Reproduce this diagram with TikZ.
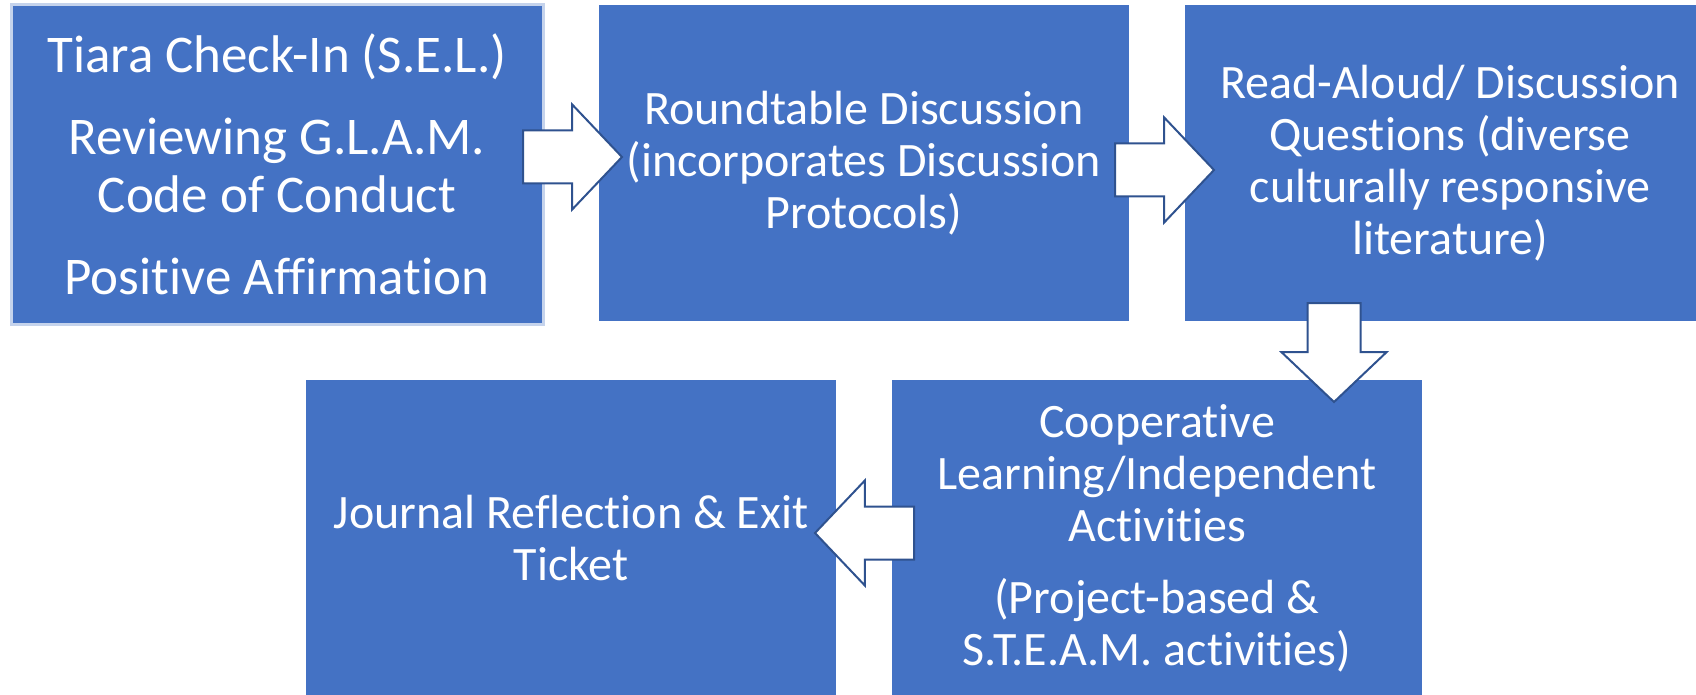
\documentclass[tikz,border=0pt]{standalone}
\usepackage{fontspec}
\setmainfont[Ligatures=NoCommon]{Carlito}
\usetikzlibrary{shapes.arrows}
\definecolor{stepblue}{HTML}{4472C4}
\definecolor{arrowblue}{HTML}{2F528F}
\definecolor{paleedge}{HTML}{C5D3EC}
\tikzset{
  stage/.style={fill=stepblue, text=white, align=center, inner sep=0pt,
    minimum width=530pt, minimum height=316pt,
    font=\fontsize{48}{52}\selectfont},
  flow/.style={single arrow, draw=arrowblue, fill=white, line width=2pt,
    inner sep=25.5pt, minimum height=99pt, anchor=tail,
    single arrow head extend=26pt, single arrow tip angle=93},
}
\begin{document}
\begin{tikzpicture}[x=1pt, y=-1pt]
  \useasboundingbox (0,0) rectangle (1696,695);
  \clip (0,0) rectangle (1696,695);
  % top row
  \node[stage, draw=paleedge, line width=3pt, minimum width=532pt, minimum height=319pt,
    font=\fontsize{53}{58}\selectfont] (checkin) at (277,164.5)
    {Tiara Check-In (S.E.L.)\\[24pt] Reviewing G.L.A.M.\\ Code of Conduct\\[24pt] Positive Affirmation};
  \node[stage] (roundtable) at (864,163)
    {Roundtable Discussion\\ (incorporates Discussion\\ Protocols)};
  \node[stage] (readaloud) at (1450,163)
    {Read-Aloud/ Discussion\\ Questions (diverse\\ culturally responsive\\ literature)};
  % bottom row
  \node[stage] (journal) at (571,538)
    {Journal Reflection \& Exit\\ Ticket};
  \node[stage] (coop) at (1157,538)
    {Cooperative\\ Learning/Independent\\ Activities\\[20pt] (Project-based \&\\ S.T.E.A.M. activities)};
  % block arrows (placed by their tails)
  \node[flow] (toround) at (522,157) {};
  \node[flow] (toread) at (1114,170) {};
  \node[flow, shape border rotate=270] (tocoop) at (1334,302) {};
  \node[flow, shape border rotate=180] (tojournal) at (915,533) {};
\end{tikzpicture}
\end{document}
